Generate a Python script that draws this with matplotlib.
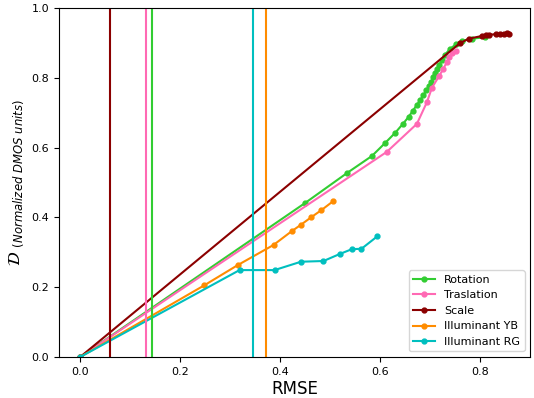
import matplotlib.pyplot as plt

# RMSE (x) vs normalized DMOS (y) for each distortion
rot_x = [0.0, 0.450, 0.535, 0.584, 0.611, 0.631, 0.646, 0.658, 0.666, 0.674, 0.681,
         0.687, 0.693, 0.698, 0.703, 0.707, 0.711, 0.715, 0.719, 0.724, 0.730,
         0.740, 0.752, 0.765, 0.785, 0.810]
rot_y = [0.0, 0.441, 0.528, 0.576, 0.614, 0.643, 0.668, 0.689, 0.706, 0.722, 0.737,
         0.750, 0.764, 0.776, 0.789, 0.801, 0.813, 0.825, 0.838, 0.851, 0.866,
         0.882, 0.896, 0.906, 0.912, 0.916]

tra_x = [0.0, 0.614, 0.674, 0.694, 0.704, 0.718, 0.727, 0.734, 0.739, 0.745, 0.752]
tra_y = [0.0, 0.588, 0.668, 0.730, 0.771, 0.804, 0.826, 0.845, 0.859, 0.870, 0.876]

sca_x = [0.0, 0.760, 0.778, 0.805, 0.812, 0.818, 0.833, 0.840, 0.848, 0.855, 0.858]
sca_y = [0.0, 0.899, 0.912, 0.920, 0.922, 0.923, 0.925, 0.925, 0.926, 0.927, 0.926]

yb_x = [0.0, 0.248, 0.315, 0.387, 0.423, 0.442, 0.463, 0.483, 0.506]
yb_y = [0.0, 0.205, 0.263, 0.321, 0.360, 0.379, 0.401, 0.421, 0.446]

rg_x = [0.0, 0.319, 0.389, 0.442, 0.487, 0.521, 0.544, 0.563, 0.595]
rg_y = [0.0, 0.249, 0.249, 0.273, 0.275, 0.296, 0.309, 0.310, 0.346]

# threshold RMSE per distortion (vertical lines)
thr = {'Rotation': 0.143, 'Traslation': 0.131, 'Scale': 0.060,
       'Illuminant YB': 0.371, 'Illuminant RG': 0.345}

series = [
    ('Rotation', rot_x, rot_y, 'limegreen'),
    ('Traslation', tra_x, tra_y, 'hotpink'),
    ('Scale', sca_x, sca_y, 'darkred'),
    ('Illuminant YB', yb_x, yb_y, 'darkorange'),
    ('Illuminant RG', rg_x, rg_y, 'c'),
]

fig = plt.figure(figsize=(5.34, 3.98), dpi=100)
ax = fig.add_axes([0.110, 0.103, 0.883, 0.877])

for name, xs, ys, col in series:
    ax.plot(xs, ys, marker='o', markersize=3.5, lw=1.5, color=col, label=name)
for name, xs, ys, col in series:
    ax.axvline(thr[name], color=col, lw=1.5)

ax.set_ylim(0, 1)
ax.set_xticks([0.0, 0.2, 0.4, 0.6, 0.8])
ax.tick_params(labelsize=8)
ax.set_xlabel('RMSE', fontsize=12, labelpad=2)
ax.set_ylabel(r'$\mathcal{D}\ _{(Normalized\ DMOS\ units)}$', fontsize=12)
ax.legend(loc='lower right', fontsize=8)

fig.savefig('out.png', dpi=100)
